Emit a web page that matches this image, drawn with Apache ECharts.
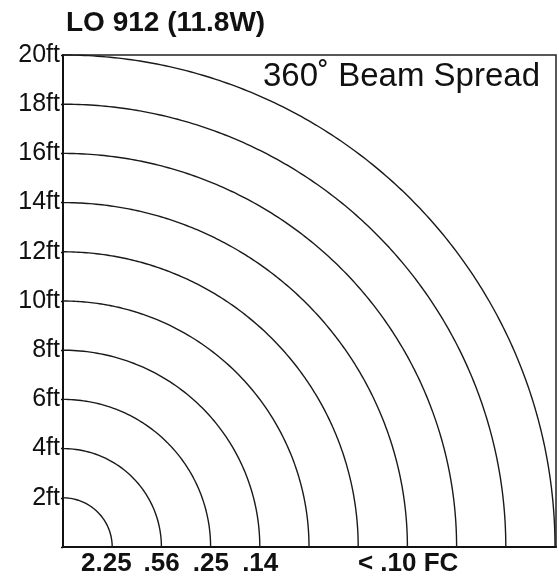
<!DOCTYPE html>
<html><head><meta charset="utf-8">
<script src="https://cdn.jsdelivr.net/npm/echarts@6/dist/echarts.min.js"></script>
<style>html,body{margin:0;padding:0;background:#fff}#c{width:559px;height:577px}</style>
</head><body><div id="c"></div>
<script>
// Data
const titleText = 'LO 912 (11.8W)';
const noteText = '360˚ Beam Spread';
const radiiFt = [2, 4, 6, 8, 10, 12, 14, 16, 18, 20];
const yTickValues = [2, 4, 6, 8, 10, 12, 14, 16, 18, 20];
const yTickLabels = ['2ft', '4ft', '6ft', '8ft', '10ft', '12ft', '14ft', '16ft', '18ft', '20ft'];
const xTickValues = [2, 4, 6, 8, 14];
const xTickLabels = ['2.25', '.56', '.25', '.14', '< .10 FC'];

const G = {left: 63, top: 55, w: 493, h: 492};
const RMAX = 21; // polar axis headroom so the 20ft arc is not clipped
const angles = [];
for (let a = 0; a <= 90; a += 0.5) angles.push(a);

const series = radiiFt.map(r => ({
  type: 'line', coordinateSystem: 'polar', symbol: 'none', silent: true, clip: false,
  data: angles.map(a => [r, a]),
  lineStyle: {color: '#1a1a1a', width: 1.4}
}));

const chart = echarts.init(document.getElementById('c'), null, {renderer: 'canvas'});
chart.setOption({
  backgroundColor: '#fff',
  animation: false,
  title: [
    {text: titleText, left: 61, top: 4,
     textStyle: {fontFamily: 'Liberation Sans', fontWeight: 'bold', fontSize: 28, color: '#111'}},
    {text: noteText, right: 14, top: 55,
     textStyle: {fontFamily: 'Liberation Sans', fontWeight: 'normal', fontSize: 33, color: '#111'}}
  ],
  grid: {left: G.left, top: G.top, width: G.w, height: G.h, show: true,
         borderColor: '#222', borderWidth: 1.5, backgroundColor: 'transparent'},
  xAxis: {type: 'value', min: 0, max: 20, interval: 2,
    axisLine: {show: true, lineStyle: {color: '#111', width: 2}},
    axisTick: {show: false}, splitLine: {show: false},
    axisLabel: {margin: 4, color: '#111', fontFamily: 'Liberation Sans', fontWeight: 'bold', fontSize: 26,
      showMinLabel: true, showMaxLabel: true,
      rich: {first: {fontFamily: 'Liberation Sans', fontWeight: 'bold', fontSize: 26, color: '#111', padding: [0, 12, 0, 0]}},
      formatter: v => { const i = xTickValues.indexOf(v); if (i < 0) return ''; return i === 0 ? '{first|' + xTickLabels[i] + '}' : xTickLabels[i]; }}
  },
  yAxis: {type: 'value', min: 0, max: 20, interval: 2,
    axisLine: {show: true, lineStyle: {color: '#111', width: 2}},
    axisTick: {show: true, length: 2, lineStyle: {color: '#111', width: 1.4}},
    splitLine: {show: false},
    axisLabel: {margin: 3, color: '#111', fontFamily: 'Liberation Sans', fontSize: 25, padding: [0, 0, 6, 0],
      showMaxLabel: true,
      formatter: v => { const i = yTickValues.indexOf(v); return i >= 0 ? yTickLabels[i] : ''; }}
  },
  polar: {center: [G.left, G.top + G.h], radius: G.h * RMAX / 20},
  angleAxis: {min: 0, max: 360, startAngle: 90, clockwise: true, show: false},
  radiusAxis: {min: 0, max: RMAX, show: false},
  series: series
});
</script></body></html>
